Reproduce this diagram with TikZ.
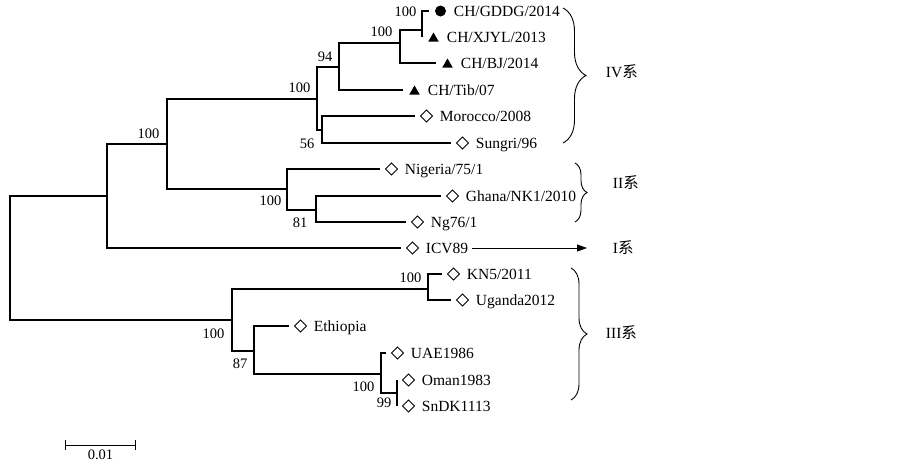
\documentclass[tikz,border=0pt]{standalone}
\usepackage{fontspec}
\setmainfont{Liberation Serif}
\newfontfamily\cjk{Noto Sans CJK SC}
\usetikzlibrary{positioning,shapes.geometric,decorations.pathreplacing,arrows.meta}
\tikzset{phylo/.style={x=1pt,y=-1pt,line width=1.2pt,font=\fontsize{15.5}{18}\selectfont},
  diam/.style={draw,diamond,line width=0.9pt,minimum size=12.5pt,inner sep=0pt},
  tri/.style={fill,regular polygon,regular polygon sides=3,minimum size=12pt,inner sep=0pt,yshift=-1.5pt},
  dot/.style={fill,circle,minimum size=11pt,inner sep=0pt},
  leaf/.style={anchor=west,text height=12pt,text depth=2pt},
  boot/.style={font=\fontsize{14.5}{16}\selectfont,inner sep=1pt},
  clade/.style={decorate,decoration={brace,amplitude=#1},line width=0.9pt}}

\begin{document}
\begin{tikzpicture}[phylo]
    \useasboundingbox (0,0) rectangle (902,464);
    % internal nodes
    \coordinate (root)  at (10,258);
    \coordinate (nA)    at (107,196);
    \coordinate (nIVII) at (167,144);
    \coordinate (nIV)   at (317,99);
    \coordinate (n94)   at (339,67);
    \coordinate (nCH)   at (400,43);
    \coordinate (nGX)   at (422,30);
    \coordinate (n56)   at (322,130);
    \coordinate (nII)   at (287,189);
    \coordinate (n81)   at (316,210);
    \coordinate (nIII)  at (232,320);
    \coordinate (nKU)   at (428,289);
    \coordinate (n87)   at (254,351);
    \coordinate (nUOS)  at (381,374);
    \coordinate (n99)   at (397,393);
    % tips
    \foreach \n/\x/\y in {GDDG/429/11, XJYL/422/37, BJ/436/63, Tib/403/90, Moro/415/116,
        Sung/451/143, Nige/380/169, Ghan/441/196, Ng/406/222, ICV/401/248, KN/442/274,
        Ugan/451/300, Ethi/289/326, UAE/386/353, Oman/397/380, SnDK/397/406}
      \coordinate (t\n) at (\x,\y);
    % branches
    \foreach \a/\b in {root/nA, root/nIII, nA/nIVII, nA/tICV, nIVII/nIV, nIVII/nII,
        nIV/n94, nIV/n56, n94/nCH, n94/tTib, nCH/nGX, nCH/tBJ, nGX/tGDDG, nGX/tXJYL,
        n56/tMoro, n56/tSung, nII/tNige, nII/n81, n81/tGhan, n81/tNg,
        nIII/nKU, nIII/n87, nKU/tKN, nKU/tUgan, n87/tEthi, n87/nUOS,
        nUOS/tUAE, nUOS/n99, n99/tOman, n99/tSnDK}
      \draw (\a) |- (\b);
    % strains
    \foreach \n/\mk/\txt in {GDDG/dot/{CH/GDDG/2014}, XJYL/tri/{CH/XJYL/2013}, BJ/tri/{CH/BJ/2014},
        Tib/tri/{CH/Tib/07}, Moro/diam/{Morocco/2008}, Sung/diam/{Sungri/96},
        Nige/diam/{Nigeria/75/1}, Ghan/diam/{Ghana/NK1/2010}, Ng/diam/{Ng76/1},
        ICV/diam/{ICV89}, KN/diam/{KN5/2011}, Ugan/diam/{Uganda2012}, Ethi/diam/{Ethiopia},
        UAE/diam/{UAE1986}, Oman/diam/{Oman1983}, SnDK/diam/{SnDK1113}} {
      \node[\mk] (m\n) at ([xshift=11.5pt]t\n) {};
      \node[leaf] (l\n) at ([xshift=9.5pt]t\n -| m\n.center) {\txt};
    }
    % bootstrap values
    \node[boot,above left=4pt and 6pt of nIVII] (bIVII) {100};
    \node[boot,above left=5pt and 5pt of nIV] (bIV) {100};
    \node[boot,above left=4pt and 5pt of n94] (b94) {94};
    \node[boot,above left=5pt and 6pt of nCH] (bCH) {100};
    \node[boot,above left=12pt and 4pt of nGX] (bGX) {100};
    \node[boot,above left=5pt and 5pt of nKU] (bKU) {100};
    \node[boot,below left=7pt and 6pt of n56] (b56) {56};
    \node[boot,below left=5pt and 4pt of nII] (bII) {100};
    \node[boot,below left=6pt and 7pt of n81] (b81) {81};
    \node[boot,below left=7pt and 6pt of nIII] (bIII) {100};
    \node[boot,below left=6pt and 5pt of n87] (b87) {87};
    \node[boot,below left=6pt and 5pt of nUOS] (bUOS) {100};
    \node[boot,below left=3pt and 4pt of n99] (b99) {99};
    % lineages
    \coordinate (bIVa) at (563,8);    \coordinate (bIVb) at (563,143);
    \coordinate (bIIa) at (575,163);  \coordinate (bIIb) at (575,222);
    \coordinate (bIIIa) at (571,268); \coordinate (bIIIb) at (571,400);
    \draw[clade=23pt] (bIVa) -- (bIVb);
    \draw[clade=12pt] (bIIa) -- (bIIb);
    \draw[clade=16pt] (bIIIa) -- (bIIIb);
    \coordinate (aI) at (587,248);
    \draw[line width=0.9pt,-{Triangle[length=10pt,width=7pt]}] (lICV) -- (aI);
    \node[leaf] (cIV) at (602,72) {IV{\cjk 系}};
    \node[leaf] (cII) at (609,183) {II{\cjk 系}};
    \node[leaf] (cI) at (609,248) {I{\cjk 系}};
    \node[leaf] (cIII) at (602,333) {III{\cjk 系}};
    % scale
    \coordinate (sbL) at (65,445);
    \coordinate (sbR) at (136,445);
    \draw[line width=1pt,{Bar[width=10pt]}-{Bar[width=10pt]}] (sbL) -- (sbR)
      node[boot,midway,below=3pt] (sbT) {0.01};
\end{tikzpicture}
\end{document}
